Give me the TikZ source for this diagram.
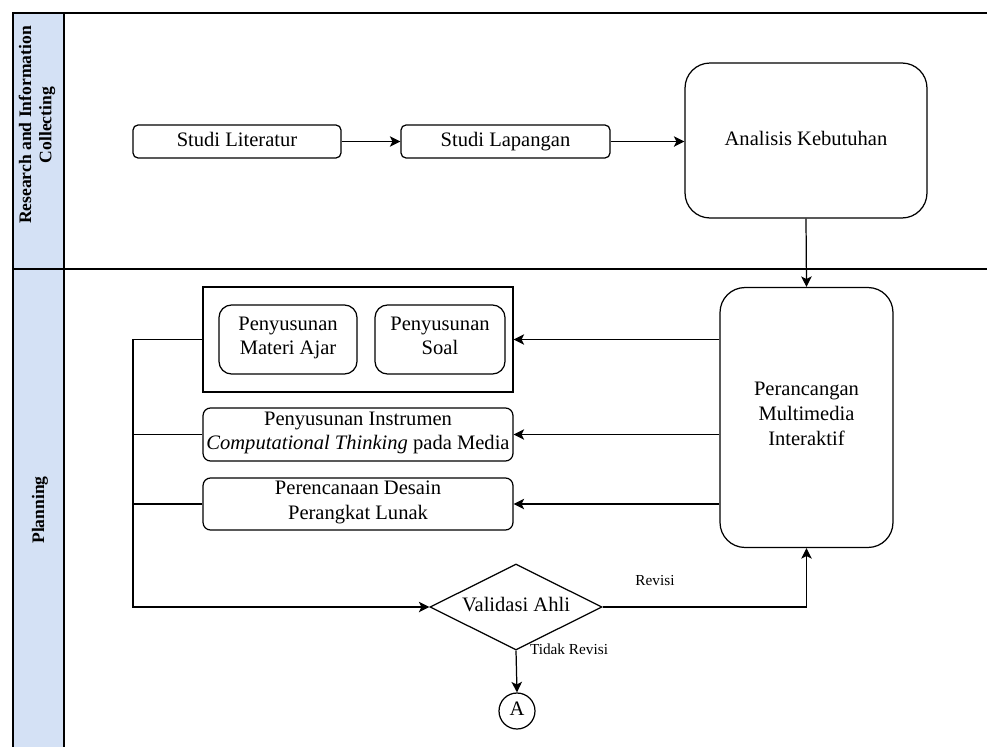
\documentclass[tikz,border=0pt]{standalone}
\usepackage{fontspec}
\setmainfont{Liberation Serif}
\usetikzlibrary{shapes.geometric,arrows.meta}
\definecolor{laneblue}{HTML}{D4E1F5}
\begin{document}
\begin{tikzpicture}[x=0.02cm,y=-0.02cm,
  every node/.style={font=\fontsize{11.7}{14}\selectfont, align=center, inner sep=0pt,
    execute at begin node=\strut, execute at end node=\strut},
  stepbox/.style={draw, line width=0.7pt, rounded corners=0.1cm},
  bigbox/.style={draw, line width=0.7pt, rounded corners=0.5cm},
  arr/.style={line width=0.7pt, -{Stealth[length=6pt,width=6pt,inset=1.5pt]}},
  ln/.style={line width=0.7pt},
  lbl/.style={font=\fontsize{8.7}{10}\selectfont},
  lanetitle/.style={font=\bfseries\fontsize{10}{11.5}\selectfont, rotate=90}]
\useasboundingbox (0,0) rectangle (987,747);

% swimlane frame
\fill[laneblue] (13,13) rectangle (64,747);
\draw[ln] (13,747) -- (13,13) -- (987,13);
\draw[ln] (64,13) -- (64,747);
\draw[ln] (13,269) -- (987,269);
\node[lanetitle] (lane1) at (38,125) {Research and Information\\Collecting};
\node[lanetitle] (lane2) at (40,510) {Planning};

% research and information collecting
\node[stepbox, minimum width=4.16cm, minimum height=0.66cm] (lit) at (237,141.5) {Studi Literatur};
\node[stepbox, minimum width=4.18cm, minimum height=0.66cm] (lap) at (505.5,141.5) {Studi Lapangan};
\node[bigbox, minimum width=4.84cm, minimum height=3.1cm] (ana) at (806,140.5) {Analisis Kebutuhan};

% planning
\node[bigbox, minimum width=3.46cm, minimum height=5.2cm] (per) at (806.5,417.5) {Perancangan\\Multimedia\\Interaktif};
\node[draw, line width=0.7pt, minimum width=6.2cm, minimum height=2.1cm] (grp) at (358,339.5) {};
\node[draw, line width=0.7pt, rounded corners=0.25cm, minimum width=2.76cm, minimum height=1.38cm] (mat) at (288,339.5) {Penyusunan\\Materi Ajar};
\node[draw, line width=0.7pt, rounded corners=0.25cm, minimum width=2.6cm, minimum height=1.38cm] (soal) at (440,339.5) {Penyusunan\\Soal};
\node[draw, line width=0.7pt, rounded corners=0.15cm, minimum width=6.2cm, minimum height=1.06cm] (ins) at (358,434.5) {Penyusunan Instrumen\\\textit{Computational Thinking} pada Media};
\node[draw, line width=0.7pt, rounded corners=0.15cm, minimum width=6.2cm, minimum height=1.04cm] (des) at (358,504) {Perencanaan Desain\\Perangkat Lunak};
\node[draw, line width=0.7pt, diamond, aspect=2, minimum width=3.44cm, minimum height=1.72cm] (val) at (516,607) {Validasi Ahli};
\node[draw, line width=0.7pt, circle, minimum size=0.72cm] (a) at (517,711) {A};
\coordinate (lx) at (133,0);

% connectors
\draw[arr] (lit.east) -- (lap.west);
\draw[arr] (lap.east) -- (lap.east -| ana.west);
\draw[arr] (ana.south) -- (per.north);
\draw[arr] (per.west |- grp.east) -- (grp.east);
\draw[arr] (per.west |- ins.east) -- (ins.east);
\draw[arr] (per.west |- des.east) -- (des.east);
\draw[ln] (ins.west) -- (ins.west -| lx);
\draw[ln] (des.west) -- (des.west -| lx);
\draw[arr] (grp.west) -- (grp.west -| lx) |- (val.west);
\draw[arr] (val.east) -| (per.south);
\draw[arr] (val.south) -- (a.north);
\node[lbl] (rev) at (655,582) {Revisi};
\node[lbl] (trev) at (569,651) {Tidak Revisi};
\end{tikzpicture}
\end{document}
